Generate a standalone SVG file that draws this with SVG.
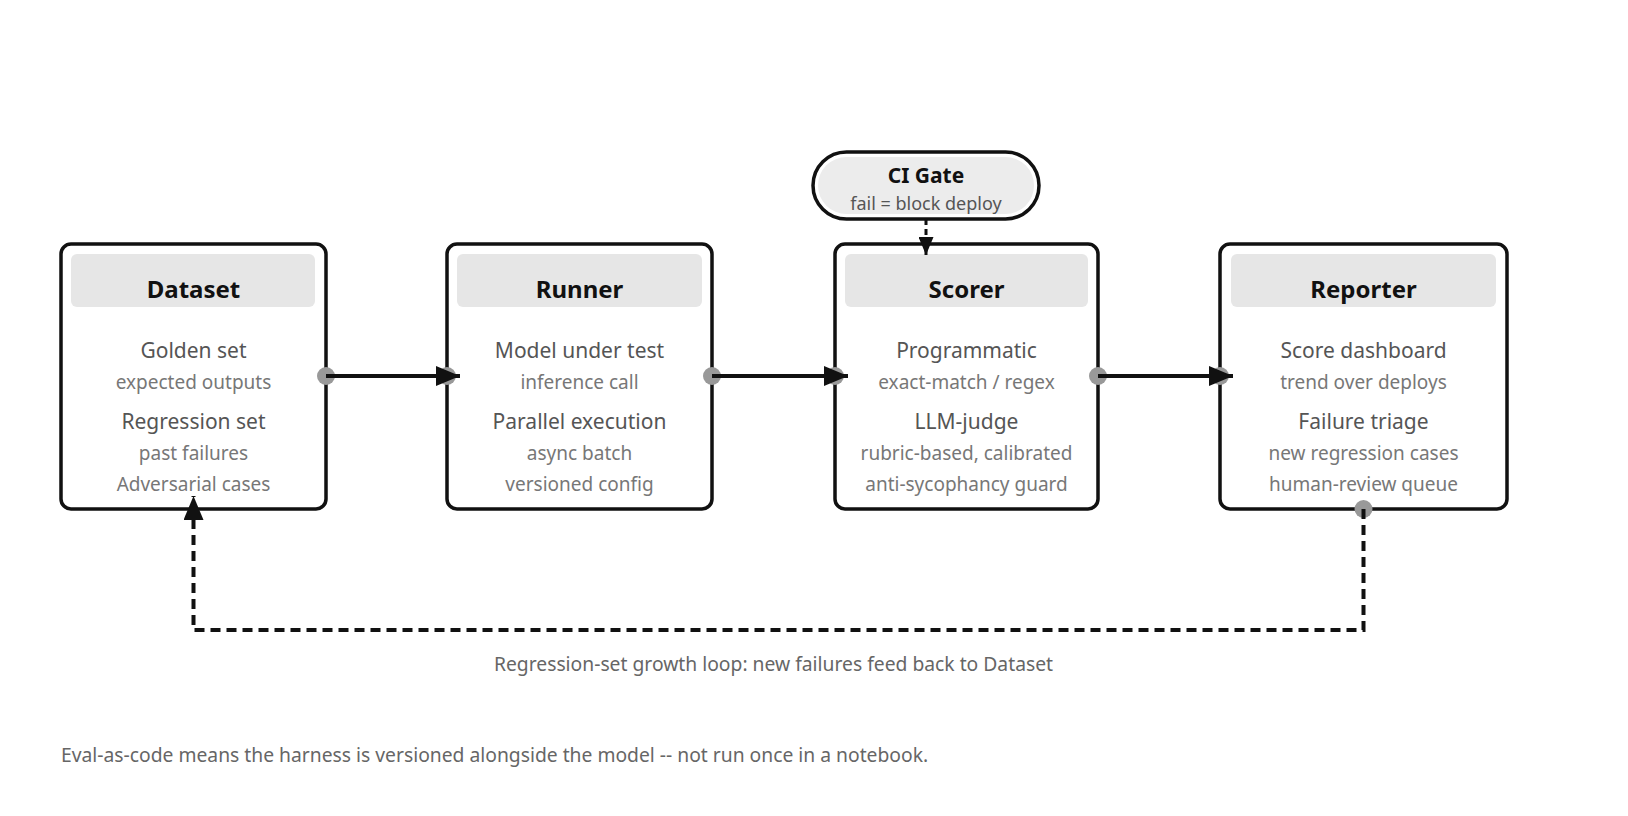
<svg xmlns="http://www.w3.org/2000/svg" width="1628" height="816" viewBox="0 0 1628 816">
<style>
.box{fill:#fff;stroke:#111;stroke-width:3.5}
.hdr{fill:#e6e6e6}
.title{font-family:"Noto Sans","Open Sans",sans-serif;font-weight:bold;font-size:24px;fill:#111;text-anchor:middle}
.main{font-family:"Noto Sans","Open Sans",sans-serif;font-size:21px;fill:#555;text-anchor:middle}
.sub{font-family:"Noto Sans","Open Sans",sans-serif;font-size:19px;fill:#777;text-anchor:middle}
.note{font-family:"Noto Sans","Open Sans",sans-serif;font-size:19.3px;fill:#666}
.port{fill:#999}
.edge{fill:none;stroke:#111;stroke-width:4}
.dash{fill:none;stroke:#111;stroke-width:4;stroke-dasharray:10 6}
</style>
<defs>
<marker id="ah" viewBox="0 0 12 10" refX="12" refY="5" markerWidth="6" markerHeight="5" markerUnits="strokeWidth" orient="auto">
<path d="M0,0 L12,5 L0,10 Z" fill="#111"/>
</marker>
</defs>
<rect width="1628" height="816" fill="#fff"/>

<g id="ci-gate">
<rect x="813" y="152" width="226" height="67" rx="33.5" fill="#fff" stroke="#111" stroke-width="3.5"/>
<rect x="818" y="157" width="216" height="57" rx="28.5" fill="#ececec"/>
<text x="926" y="183" class="title" style="font-size:21px">CI Gate</text>
<text x="926" y="210" class="sub" style="fill:#555;font-size:18px">fail = block deploy</text>
</g>

<g id="dataset">
<rect x="61" y="244" width="265" height="265" rx="10" class="box"/>
<rect x="71" y="254" width="244" height="53" rx="6" class="hdr"/>
<text x="193.5" y="298" class="title">Dataset</text>
<text x="193.5" y="358" class="main">Golden set</text>
<text x="193.5" y="389" class="sub">expected outputs</text>
<text x="193.5" y="429" class="main">Regression set</text>
<text x="193.5" y="460" class="sub">past failures</text>
<text x="193.5" y="491" class="sub">Adversarial cases</text>
</g>

<g id="runner">
<rect x="447" y="244" width="265" height="265" rx="10" class="box"/>
<rect x="457" y="254" width="245" height="53" rx="6" class="hdr"/>
<text x="579.5" y="298" class="title">Runner</text>
<text x="579.5" y="358" class="main">Model under test</text>
<text x="579.5" y="389" class="sub">inference call</text>
<text x="579.5" y="429" class="main">Parallel execution</text>
<text x="579.5" y="460" class="sub">async batch</text>
<text x="579.5" y="491" class="sub">versioned config</text>
</g>

<g id="scorer">
<rect x="835" y="244" width="263" height="265" rx="10" class="box"/>
<rect x="845" y="254" width="243" height="53" rx="6" class="hdr"/>
<text x="966.5" y="298" class="title">Scorer</text>
<text x="966.5" y="358" class="main">Programmatic</text>
<text x="966.5" y="389" class="sub">exact-match / regex</text>
<text x="966.5" y="429" class="main">LLM-judge</text>
<text x="966.5" y="460" class="sub">rubric-based, calibrated</text>
<text x="966.5" y="491" class="sub">anti-sycophancy guard</text>
</g>

<g id="reporter">
<rect x="1220" y="244" width="287" height="265" rx="10" class="box"/>
<rect x="1231" y="254" width="265" height="53" rx="6" class="hdr"/>
<text x="1363.5" y="298" class="title">Reporter</text>
<text x="1363.5" y="358" class="main">Score dashboard</text>
<text x="1363.5" y="389" class="sub">trend over deploys</text>
<text x="1363.5" y="429" class="main">Failure triage</text>
<text x="1363.5" y="460" class="sub">new regression cases</text>
<text x="1363.5" y="491" class="sub">human-review queue</text>
</g>

<g id="connectors">
<circle cx="326" cy="376" r="9" class="port"/>
<circle cx="447" cy="376" r="9" class="port"/>
<path d="M326,376 H460" class="edge" marker-end="url(#ah)"/>
<circle cx="712" cy="376" r="9" class="port"/>
<circle cx="835" cy="376" r="9" class="port"/>
<path d="M712,376 H848" class="edge" marker-end="url(#ah)"/>
<circle cx="1098" cy="376" r="9" class="port"/>
<circle cx="1220" cy="376" r="9" class="port"/>
<path d="M1098,376 H1233" class="edge" marker-end="url(#ah)"/>
<path d="M926,219 V255" class="dash" style="stroke-width:3;stroke-dasharray:6 4" marker-end="url(#ah)"/>
<circle cx="1363.5" cy="509" r="9" class="port"/>
<path d="M1363.5,509 V630 H193.5 V496" class="dash" marker-end="url(#ah)"/>
<text x="773.5" y="671" class="note" text-anchor="middle">Regression-set growth loop: new failures feed back to Dataset</text>
</g>

<text x="61" y="762" class="note">Eval-as-code means the harness is versioned alongside the model -- not run once in a notebook.</text>
</svg>
